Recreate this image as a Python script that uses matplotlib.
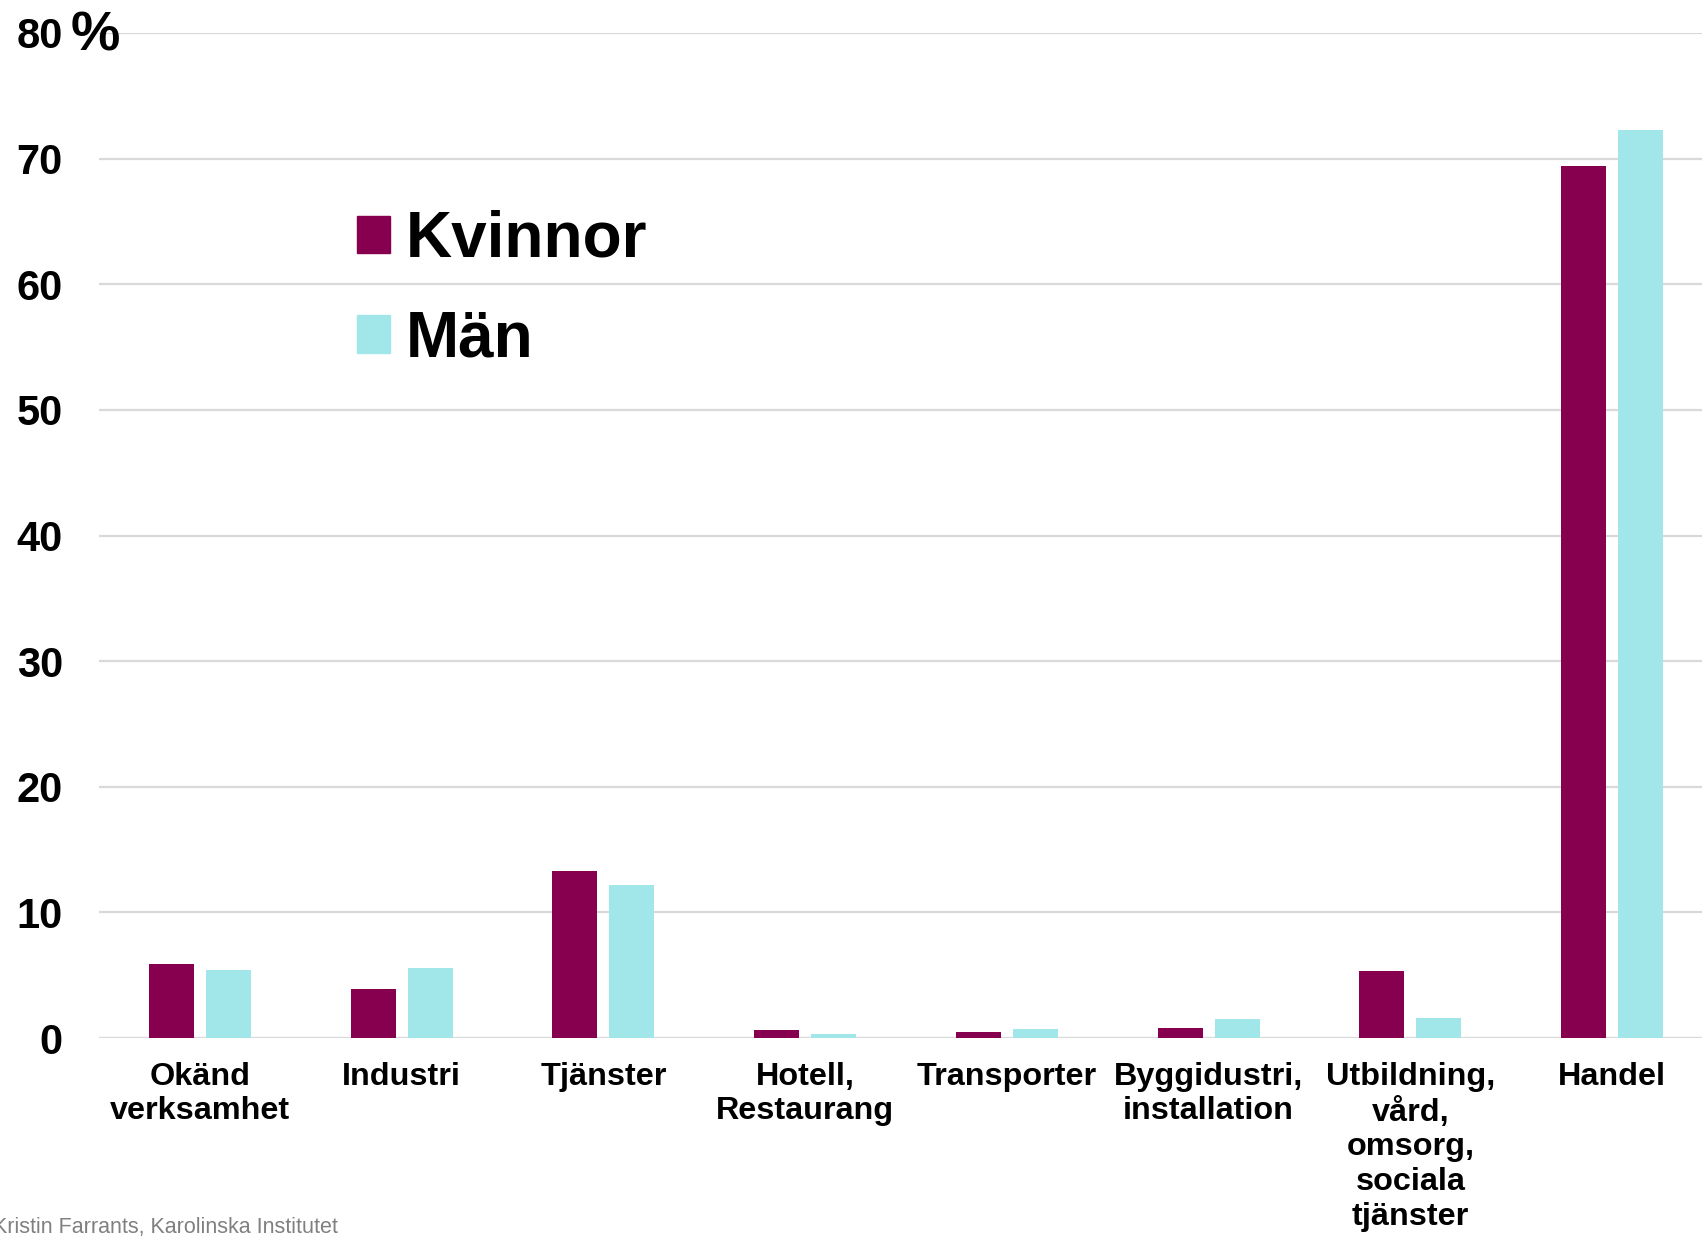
import numpy as np
import matplotlib
matplotlib.use("Agg")
import matplotlib.pyplot as plt
import matplotlib.transforms as mtransforms
from matplotlib.patches import Patch

plt.rcParams['font.family'] = ['Liberation Sans', 'DejaVu Sans']

# andel per verksamhet, i procent
categories = ["Okänd\nverksamhet", "Industri", "Tjänster", "Hotell,\nRestaurang",
              "Transporter", "Byggidustri,\ninstallation",
              "Utbildning,\nvård,\nomsorg,\nsociala\ntjänster", "Handel"]
kvinnor = [5.9, 3.9, 13.3, 0.6, 0.5, 0.8, 5.3, 69.4]
man = [5.4, 5.6, 12.2, 0.3, 0.7, 1.5, 1.6, 72.3]
series_names = ["Kvinnor", "Män"]
yticks = [0, 10, 20, 30, 40, 50, 60, 70, 80]
ytick_labels = ["0", "10", "20", "30", "40", "50", "60", "70", "80"]
source_text = "Kristin Farrants, Karolinska Institutet"

KVINNOR_COLOR = '#870050'
MAN_COLOR = '#a1e6e9'


def makeChart():
    fig = plt.figure(figsize=(17.02, 12.39), dpi=100)
    ax = fig.add_axes([99 / 1702, 1 - 1038 / 1239, 1614 / 1702, (1038 - 33) / 1239])

    x = np.arange(len(categories))
    width = 0.223
    ax.bar(x - 0.141, kvinnor, width, color=KVINNOR_COLOR, zorder=3)
    ax.bar(x + 0.141, man, width, color=MAN_COLOR, zorder=3)

    ax.set_xlim(-0.5, len(categories) - 0.5)
    ax.set_ylim(0, 80)
    ax.set_yticks(yticks)
    ax.set_yticklabels(ytick_labels, fontsize=30, fontweight='bold')
    ax.set_xticks(x)
    ax.set_xticklabels(categories, fontsize=23.3, fontweight='bold', linespacing=1.21)
    ax.tick_params(axis='y', length=0, pad=26)
    ax.tick_params(axis='x', length=0, pad=17)

    # grid lines in light gray, also at zero
    ax.grid(axis='y', color='#d9d9d9', linewidth=1.6, zorder=0)
    ax.grid(axis='x', visible=False)
    for side in ['top', 'right', 'left', 'bottom']:
        ax.spines[side].set_visible(False)
    ax.axhline(0, color='#d9d9d9', linewidth=2.2, zorder=2)

    # the big % next to 80
    trans = mtransforms.blended_transform_factory(fig.transFigure, ax.transData)
    ax.text(71 / 1702, 79.7, "%", transform=trans, fontsize=40, fontweight='bold',
            ha='left', va='center', clip_on=False)

    handles = [Patch(color=KVINNOR_COLOR), Patch(color=MAN_COLOR)]
    fig.legend(handles, series_names, loc='upper left', bbox_to_anchor=(325 / 1702, 1 - 178 / 1239),
               frameon=False, borderpad=0, handlelength=0.52, handleheight=0.52,
               handletextpad=0.25, labelspacing=0.62,
               prop={'size': 46, 'weight': 'bold'})

    fig.text(338 / 1702, 11 / 1239, source_text, fontsize=15.5, color='#808080',
             ha='right', va='center')

    fig.savefig("out.png", dpi=100)


def main():
    makeChart()


main()
